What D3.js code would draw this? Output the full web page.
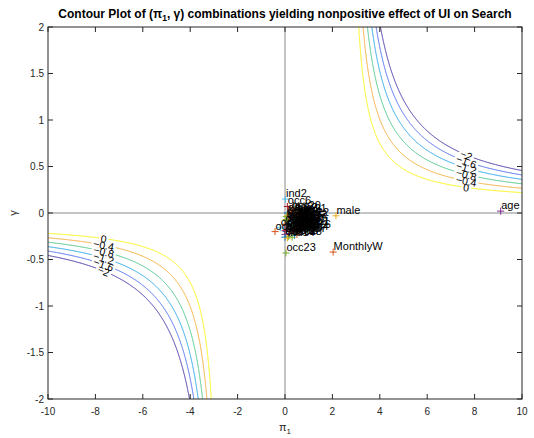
<!DOCTYPE html>
<html><head><meta charset="utf-8">
<script src="https://cdn.jsdelivr.net/npm/d3@7"></script>
<style>
body{margin:0;background:#fff}
text{font-family:"Liberation Sans",Arial,Helvetica,sans-serif}
</style>
</head><body>
<svg id="c" width="534" height="438"></svg>
<script>
// ---------------- data ----------------
const levels = [0, -0.4, -0.8, -1.2, -1.6, -2];
const levelColors = ["#f7f50a", "#f2aa35", "#45c386", "#22a2e6", "#4768ee", "#432da3"];
const xTicks = [-10, -8, -6, -4, -2, 0, 2, 4, 6, 8, 10];
const yTicks = [-2, -1.5, -1, -0.5, 0, 0.5, 1, 1.5, 2];
const xTickLabels = ["-10", "-8", "-6", "-4", "-2", "0", "2", "4", "6", "8", "10"];
const yTickLabels = ["-2", "-1.5", "-1", "-0.5", "0", "0.5", "1", "1.5", "2"];
// effect surface: level sets are hyperbola branches (|pi1|-asymX)(|gamma|-asymY) = k0 - kSlope*level
const asymX = 2.65, asymY = 0.1, k0 = 0.875, kSlope = 0.8725;
const labelPi = 7.65;
const varNames = ["educ", "MonthlyW", "male", "age", "occ23", "ind2", "occ6", "educ2", "ind9", "occ1", "occ2", "occ3",
  "occ4", "occ5", "occ7", "occ8", "occ9", "occ10", "occ11", "occ12", "occ13", "occ14", "occ15", "occ16", "occ17",
  "occ18", "occ19", "ind1", "ind3", "ind4", "ind5", "ind6", "ind7", "ind8", "educ1", "educ3",
  "occ20", "occ21", "occ22", "occ24", "occ25", "occ26", "ind10", "ind11", "ind12", "ind13", "educ4", "educ5",
  "married", "kids", "occ27", "ind14", "educ6", "occ28"];
const varPi = [0.35, 2.03, 2.15, 9.1, 0.04, 0.02, 0.1, 0.1, 0.3, 0.1, 0.25, 0.05,
  0.4, 0.15, 0.55, 0.0, 0.3, 0.1, 0.5, 0.05, 0.2, 0.05, -0.42, 0.35, 0.0,
  0.15, -0.2, 0.55, 0.62, 0.45, 0.7, 0.2, 0.1, 0.5, 0.6, 0.0,
  0.25, 0.5, 0.6, 0.05, 0.35, 0.55, 0.15, 0.45, 0.62, 0.3, 0.55, 0.2,
  0.0, 0.4, 0.5, 0.1, 0.65, 0.3];
const varGamma = [-0.02, -0.42, -0.03, 0.02, -0.43, 0.15, 0.07, 0.0, 0.01, -0.03, -0.05, -0.07,
  -0.08, -0.1, -0.06, -0.12, -0.13, -0.15, -0.12, -0.17, -0.18, -0.2, -0.2, -0.21, -0.23,
  -0.25, -0.16, -0.02, -0.1, -0.16, -0.14, -0.22, -0.09, -0.19, -0.15, -0.26,
  0.02, -0.01, -0.05, -0.04, -0.09, -0.11, -0.11, -0.04, -0.07, -0.17, -0.2, -0.13,
  -0.19, -0.24, -0.23, -0.27, -0.18, -0.26];
const colorOrder = ["#0072BD", "#D95319", "#EDB120", "#7E2F8E", "#77AC30", "#4DBEEE", "#A2142F"];

// ---------------- layout ----------------
const W = 534, H = 438;
const L = 48, R = 522, T = 27, B = 399;
const axisColor = "#262626";
const svg = d3.select("#c");
svg.append("rect").attr("width", W).attr("height", H).attr("fill", "#fff");

const xs = d3.scaleLinear().domain([-10, 10]).range([L, R]);
const ys = d3.scaleLinear().domain([-2, 2]).range([B, T]);

const defs = svg.append("defs");
defs.append("clipPath").attr("id", "plotClip").append("rect")
  .attr("x", L).attr("y", T).attr("width", R - L).attr("height", B - T);

// ---------------- effect surface & contours ----------------
function effect(p, g) {
  let P = 0;
  if (p * g > 0) P = Math.max(0, Math.abs(p) - asymX) * Math.max(0, Math.abs(g) - asymY);
  return (k0 - P) / kSlope;
}
const gx0 = -10.5, gx1 = 10.5, gy0 = -2.2, gy1 = 2.2, gdx = 0.025, gdy = 0.005;
const nx = Math.round((gx1 - gx0) / gdx) + 1, ny = Math.round((gy1 - gy0) / gdy) + 1;
const grid = new Float64Array(nx * ny);
for (let j = 0; j < ny; j++) {
  const g = gy0 + j * gdy;
  for (let i = 0; i < nx; i++) grid[j * nx + i] = effect(gx0 + i * gdx, g);
}
const contourGen = d3.contours().size([nx, ny]).thresholds(levels);
const proj = d3.geoTransform({
  point: function (px, py) {
    this.stream.point(xs(gx0 + (px - 0.5) * gdx), ys(gy0 + (py - 0.5) * gdy));
  }
});
const pathGen = d3.geoPath(proj);

// label geometry
function branchGamma(p, lev) {
  const k = k0 - kSlope * lev;
  const s = Math.sign(p);
  return s * (asymY + k / (Math.abs(p) - asymX));
}
const labels = [];
levels.forEach((lev, i) => {
  [1, -1].forEach(s => {
    const p = s * labelPi;
    const g = branchGamma(p, lev);
    const pa = [xs(p - 0.1), ys(branchGamma(p - 0.1, lev))];
    const pb = [xs(p + 0.1), ys(branchGamma(p + 0.1, lev))];
    const ang = Math.atan2(pb[1] - pa[1], pb[0] - pa[0]) * 180 / Math.PI;
    labels.push({ lev, i, x: xs(p), y: ys(g), ang, text: d3.format("")(lev) });
  });
});

// mask to open gaps in contour lines where labels sit
const mask = defs.append("mask").attr("id", "gapMask").attr("maskUnits", "userSpaceOnUse")
  .attr("x", 0).attr("y", 0).attr("width", W).attr("height", H);
mask.append("rect").attr("width", W).attr("height", H).attr("fill", "#fff");

// zero lines
svg.append("line").attr("x1", xs(0)).attr("x2", xs(0)).attr("y1", T).attr("y2", B)
  .attr("stroke", "#8a8a8a").attr("stroke-width", 1);
svg.append("line").attr("x1", L).attr("x2", R).attr("y1", ys(0)).attr("y2", ys(0))
  .attr("stroke", "#8a8a8a").attr("stroke-width", 1);

const cg = svg.append("g").attr("clip-path", "url(#plotClip)")
  .append("g").attr("mask", "url(#gapMask)");
contourGen(grid).forEach((c, i) => {
  cg.append("path").attr("d", pathGen(c)).attr("fill", "none")
    .attr("stroke", levelColors[levels.indexOf(c.value)]).attr("stroke-width", 1);
});

// contour labels
const lg = svg.append("g");
labels.forEach(lb => {
  const t = lg.append("text").attr("x", 0).attr("y", 0)
    .attr("text-anchor", "middle").attr("dominant-baseline", "central")
    .attr("font-size", 10.5).attr("fill", "#000")
    .attr("transform", `translate(${lb.x},${lb.y}) rotate(${lb.ang})`)
    .text(lb.text);
  const w = t.node().getComputedTextLength();
  mask.append("rect").attr("x", -w / 2 - 2).attr("y", -4.5).attr("width", w + 4).attr("height", 9)
    .attr("fill", "#000").attr("transform", `translate(${lb.x},${lb.y}) rotate(${lb.ang})`);
});

// ---------------- scatter of coefficients ----------------
const mg = svg.append("g");
varNames.forEach((n, i) => {
  const x = xs(varPi[i]), y = ys(varGamma[i]);
  mg.append("path").attr("d", `M${x - 3.5},${y}h7M${x},${y - 3.5}v7`)
    .attr("stroke", colorOrder[i % colorOrder.length]).attr("stroke-width", 1).attr("fill", "none");
});
const tg = svg.append("g");
varNames.forEach((n, i) => {
  tg.append("text").attr("x", xs(varPi[i]) + 0.5).attr("y", ys(varGamma[i]) - 6)
    .attr("dominant-baseline", "central").attr("font-size", 11).attr("fill", "#000").text(n);
});

// ---------------- axes ----------------
const ag = svg.append("g");
ag.append("rect").attr("x", L).attr("y", T).attr("width", R - L).attr("height", B - T)
  .attr("fill", "none").attr("stroke", axisColor).attr("stroke-width", 1);
const tl = 5;
xTicks.forEach((v, i) => {
  const x = xs(v);
  ag.append("line").attr("x1", x).attr("x2", x).attr("y1", B).attr("y2", B - tl).attr("stroke", axisColor);
  ag.append("line").attr("x1", x).attr("x2", x).attr("y1", T).attr("y2", T + tl).attr("stroke", axisColor);
  ag.append("text").attr("x", x).attr("y", B + 15.5).attr("text-anchor", "middle")
    .attr("font-size", 10).attr("fill", axisColor).text(xTickLabels[i]);
});
yTicks.forEach((v, i) => {
  const y = ys(v);
  ag.append("line").attr("x1", L).attr("x2", L + tl).attr("y1", y).attr("y2", y).attr("stroke", axisColor);
  ag.append("line").attr("x1", R).attr("x2", R - tl).attr("y1", y).attr("y2", y).attr("stroke", axisColor);
  ag.append("text").attr("x", L - 4).attr("y", y).attr("text-anchor", "end").attr("dominant-baseline", "central")
    .attr("font-size", 10).attr("fill", axisColor).text(yTickLabels[i]);
});

// title
const title = svg.append("text").attr("x", (L + R) / 2).attr("y", 18).attr("text-anchor", "middle")
  .attr("font-size", 12).attr("font-weight", "bold").attr("fill", "#000");
title.append("tspan").text("Contour Plot of (π");
title.append("tspan").attr("font-size", 8.5).attr("dy", 3).text("1");
title.append("tspan").attr("dy", -3).text(", γ) combinations yielding nonpositive effect of UI on Search");

// axis labels
const xl = svg.append("text").attr("x", (L + R) / 2).attr("y", 431).attr("text-anchor", "middle")
  .attr("font-size", 11).attr("fill", axisColor);
xl.append("tspan").text("π");
xl.append("tspan").attr("font-size", 8).attr("dy", 3).text("1");
svg.append("text").attr("transform", `translate(17,${ys(0)}) rotate(-90)`).attr("text-anchor", "middle")
  .attr("font-size", 11).attr("fill", axisColor).text("γ");
</script>
</body></html>
